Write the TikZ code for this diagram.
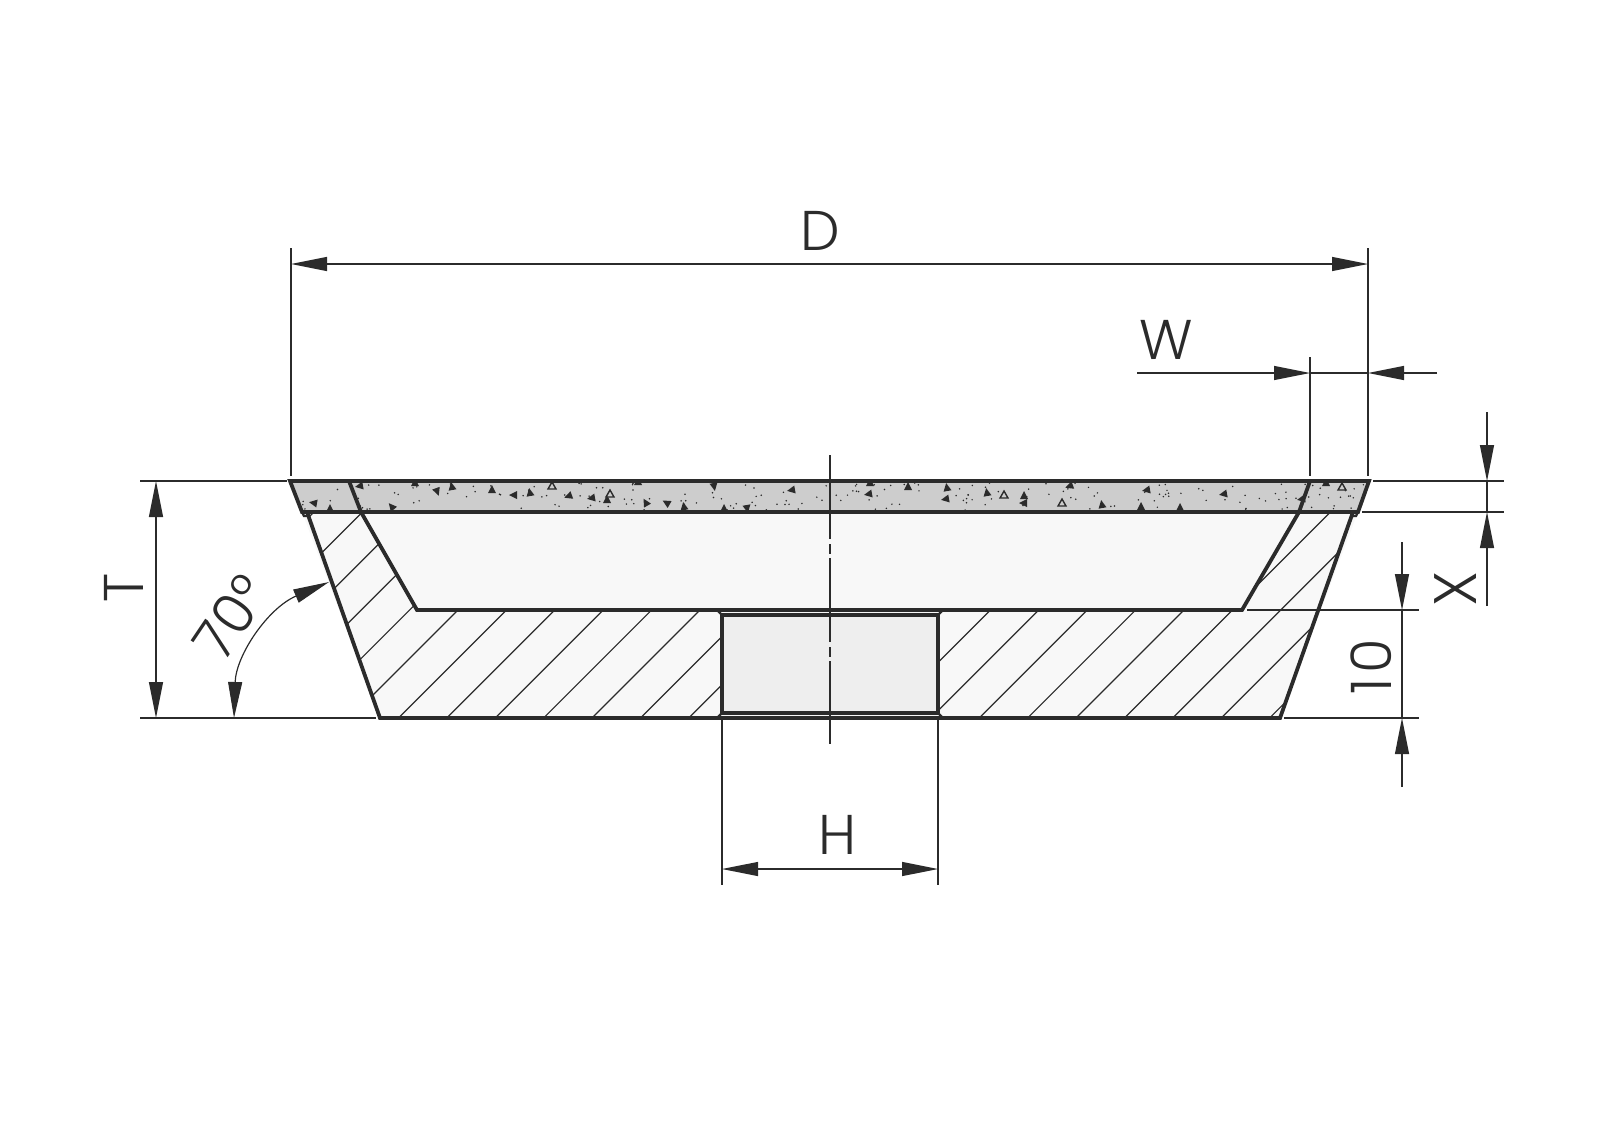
\documentclass[tikz,border=0pt]{standalone}
\usepackage{fontspec}
\setmainfont{Poppins}[UprightFont=* Light]
\usetikzlibrary{arrows.meta}
\definecolor{inkdark}{HTML}{2B2B2B}
\definecolor{rimgray}{HTML}{CDCDCD}
\definecolor{bodygray}{HTML}{F8F8F8}
\definecolor{boregray}{HTML}{EEEEEE}
\tikzset{
  dimtip/.tip={Triangle[length=18pt,width=7pt,fill=inkdark]},
  outline/.style={line width=1.9pt, draw=inkdark, line join=miter},
  thinline/.style={line width=0.6pt, draw=inkdark},
  dimarrow/.style={thinline, -dimtip},
  dimboth/.style={thinline, dimtip-dimtip},
  dimtext/.style={font=\fontsize{28}{28}\selectfont, text=inkdark, inner sep=0pt}
}
\begin{document}
\begin{tikzpicture}[x=0.5pt,y=-0.5pt]
\useasboundingbox (0,0) rectangle (1600,1132);
\coordinate (rimtl) at (290,481);
\coordinate (rimtr) at (1369,481);
\coordinate (rimbr) at (1358,512);
\coordinate (rimbl) at (302,512);
\coordinate (rimil) at (349,481);
\coordinate (rimir) at (1310,481);
\coordinate (outl) at (307,512);
\coordinate (outr) at (1353,512);
\coordinate (botl) at (380,718);
\coordinate (botr) at (1280,718);
\coordinate (cavtl) at (361,512);
\coordinate (cavtr) at (1299,512);
\coordinate (cavbl) at (417,610);
\coordinate (cavbr) at (1242,610);
\coordinate (borl) at (717,610);
\coordinate (borr) at (943,610);
\coordinate (borbl) at (717,718);
\coordinate (borbr) at (943,718);
\coordinate (bortl) at (722,615);
\coordinate (bortr) at (938,615);
\coordinate (boril) at (722,713);
\coordinate (borir) at (938,713);
% fills
\fill[bodygray] (rimbl)--(rimbr)--(botr)--(botl)--cycle;
\fill[boregray] (bortl)--(bortr)--(borir)--(boril)--cycle;
\fill[rimgray] (rimtl)--(rimtr)--(rimbr)--(rimbl)--cycle;
% hatching
\begin{scope}
\clip (outl)--(cavtl)--(cavbl)--(borl)--(bortl)--(boril)--(borbl)--(botl)--cycle;
\foreach \k in {0,...,14}
  \draw[thinline] ({826+48.4*\k-450},450)--({826+48.4*\k-750},750);
\end{scope}
\begin{scope}
\clip (cavtr)--(outr)--(botr)--(borbr)--(borir)--(bortr)--(borr)--(cavbr)--cycle;
\foreach \k in {15,...,25}
  \draw[thinline] ({826+48.4*\k-450},450)--({826+48.4*\k-750},750);
\end{scope}
% grit
\begin{scope}
\clip (rimtl)--(rimtr)--(rimbr)--(rimbl)--cycle;
\pgfmathsetseed{417}
\foreach \i in {1,...,190} {
  \pgfmathsetmacro{\px}{290+rnd*1079}
  \pgfmathsetmacro{\py}{483+rnd*27}
  \fill[inkdark] (\px,\py) circle (0.42pt);
}
\foreach \px/\py/\rr in {314/503/80,330/509/0,360/486/100,392/507/40,415/483/0,437/491/200,
  452/487/10,492/490/0,514/495/90,530/493/10,569/496/110,592/498/100,607/500/0,646/503/30,
  638/482/0,714/486/190,667/503/60,684/507/10,724/509/0,747/508/190,792/490/100,870/483/0,
  869/494/100,908/487/0,947/488/10,946/499/100,987/493/10,1070/486/110,1024/496/0,1024/503/90,
  1102/505/10,1147/490/100,1141/507/0,1180/508/0,1224/494/100,1302/499/100,1326/483/0}
  \fill[inkdark,rotate around={\rr:(\px,\py)}] (\px-4,\py+3)--(\px+4,\py+3)--(\px,\py-5)--cycle;
\foreach \px/\py in {552/486,610/494,1004/495,1062/503,1342/487}
  \draw[inkdark,line width=0.7pt,fill=rimgray] (\px-4,\py+3)--(\px+4,\py+3)--(\px,\py-4)--cycle;
\end{scope}
% outline
\draw[outline] (rimtl)--(rimtr)--(rimbr)--(rimbl)--cycle;
\draw[outline] (rimil)--(cavtl)--(cavbl)--(cavbr)--(cavtr)--(rimir);
\draw[outline] (outl)--(botl)--(botr)--(outr);
\draw[outline,line width=1.2pt] (rimbl)--(304,516)--(309,516);
\draw[outline,line width=1.2pt] (rimbr)--(1356,516)--(1352,516);
\draw[outline] (bortl)--(bortr)--(borir)--(boril)--cycle;
\draw[outline,line width=1.2pt] (borl)--(bortl) (borr)--(bortr) (borbl)--(boril) (borbr)--(borir);
% axis
\draw[line width=1pt,inkdark] (830,455)--(830,539) (830,544)--(830,554) (830,558)--(830,642)
  (830,647)--(830,657) (830,661)--(830,744);
% dim D
\coordinate (dl) at (291,264);
\coordinate (dr) at (1368,264);
\draw[thinline] (291,248)--(291,476);
\draw[thinline] (1368,248)--(1368,476);
\draw[dimboth] (dl)--(dr);
\node[dimtext] (textd) at (820,231) {D};
% dim W
\coordinate (wl) at (1310,373);
\coordinate (wr) at (1368,373);
\draw[thinline] (1310,357)--(1310,476);
\draw[dimarrow] (1137,373)--(wl);
\draw[thinline] (wl)--(wr);
\draw[dimarrow] (1437,373)--(wr);
\node[dimtext] (textw) at (1166,340) {W};
% dim X
\coordinate (xt) at (1487,481);
\coordinate (xb) at (1487,512);
\draw[thinline] (1373,481)--(1504,481);
\draw[thinline] (1362,512)--(1504,512);
\draw[dimarrow] (1487,412)--(xt);
\draw[dimarrow] (1487,606)--(xb);
\draw[thinline] (xt)--(xb);
\node[dimtext,rotate=90,font=\fontsize{30}{30}\selectfont] (textx) at (1456,589) {X};
% dim 10
\coordinate (tt) at (1402,610);
\coordinate (tb) at (1402,718);
\draw[thinline] (1247,610)--(1419,610);
\draw[thinline] (1284,718)--(1419,718);
\draw[dimarrow] (1402,542)--(tt);
\draw[dimarrow] (1402,787)--(tb);
\draw[thinline] (tt)--(tb);
\node[dimtext,rotate=90] (textten) at (1371,667) {1\hspace{2.5pt}0};
% dim T
\coordinate (ht) at (156,481);
\coordinate (hb) at (156,718);
\draw[thinline] (140,481)--(287,481);
\draw[thinline] (140,718)--(376,718);
\draw[dimboth] (ht)--(hb);
\node[dimtext,rotate=90] (textt) at (124,588) {T};
% dim H
\coordinate (hl) at (722,869);
\coordinate (hr) at (938,869);
\draw[thinline] (722,718)--(722,885);
\draw[thinline] (938,718)--(938,885);
\draw[dimboth] (hl)--(hr);
\node[dimtext] (texth) at (838,835) {H};
% angle
\coordinate (ang1) at (234,718);
\coordinate (ang2) at (329,582);
\draw[dimboth] (ang1) .. controls (236,655) and (268,608) .. (ang2);
\node[dimtext,rotate=56] (textang) at (231,617) {70°};
\end{tikzpicture}
\end{document}
